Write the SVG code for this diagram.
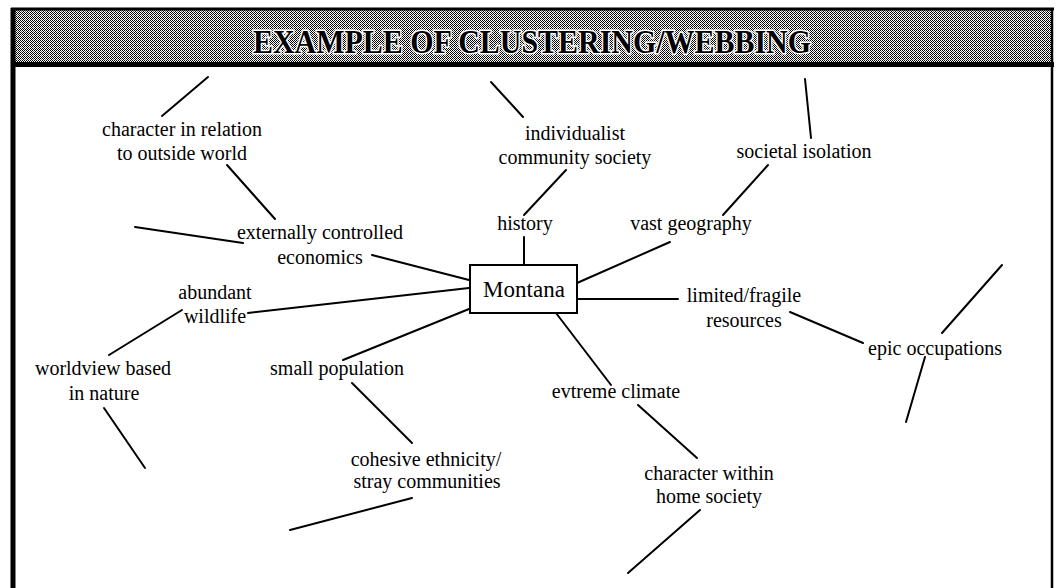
<svg xmlns="http://www.w3.org/2000/svg" width="1056" height="588" viewBox="0 0 1056 588">
<style>
.t{font-family:"Liberation Serif","Times New Roman",serif;font-size:20px;fill:#000;text-anchor:middle}
.c line{stroke:#000;stroke-width:2;stroke-linecap:round}
.frame{stroke:#000;fill:none}
</style>
<defs>
<pattern id="dither" width="4" height="4" patternUnits="userSpaceOnUse">
<rect width="4" height="4" fill="#fff"/>
<rect x="0" y="0" width="1" height="1" fill="#000"/>
<rect x="2" y="0" width="1" height="1" fill="#000"/>
<rect x="1" y="1" width="1" height="1" fill="#000"/>
<rect x="3" y="1" width="1" height="1" fill="#000"/>
<rect x="0" y="2" width="1" height="1" fill="#000"/>
<rect x="2" y="2" width="1" height="1" fill="#000"/>
<rect x="3" y="3" width="1" height="1" fill="#000"/>
<rect x="1" y="3" width="1" height="1" fill="#555"/>
</pattern>
</defs>
<rect width="1056" height="588" fill="#fff"/>
<g id="header">
<rect x="13" y="10" width="1039" height="54" fill="url(#dither)"/>
<text x="532" y="53" font-family="Liberation Serif,'Times New Roman',serif" font-size="34" font-weight="bold" text-anchor="middle" textLength="558" lengthAdjust="spacingAndGlyphs" fill="#000" stroke="#fff" stroke-width="3" paint-order="stroke">EXAMPLE OF CLUSTERING/WEBBING</text>
</g>
<g id="frame">
<line class="frame" x1="13" y1="8" x2="13" y2="588" stroke-width="5"/>
<line class="frame" x1="11" y1="9" x2="1054" y2="9" stroke-width="3"/>
<line class="frame" x1="11" y1="64.5" x2="1054" y2="64.5" stroke-width="5"/>
<line class="frame" x1="1052" y1="8" x2="1052" y2="588" stroke-width="2.5"/>
</g>
<g id="connectors" class="c">
<line x1="208" y1="77" x2="162" y2="116"/>
<line x1="227" y1="165" x2="275" y2="219"/>
<line x1="135" y1="227" x2="243" y2="243"/>
<line x1="372" y1="255" x2="469" y2="280"/>
<line x1="491" y1="82" x2="523" y2="117"/>
<line x1="566" y1="170" x2="524" y2="215"/>
<line x1="524" y1="237" x2="524" y2="264"/>
<line x1="805" y1="79" x2="811" y2="138"/>
<line x1="768" y1="165" x2="723" y2="215"/>
<line x1="670" y1="242" x2="577" y2="283"/>
<line x1="577" y1="299" x2="678" y2="299"/>
<line x1="790" y1="312" x2="863" y2="343"/>
<line x1="1002" y1="265" x2="942" y2="333"/>
<line x1="925" y1="357" x2="906" y2="422"/>
<line x1="469" y1="288" x2="248" y2="313"/>
<line x1="182" y1="310" x2="109" y2="355"/>
<line x1="104" y1="408" x2="145" y2="468"/>
<line x1="469" y1="309" x2="343" y2="360"/>
<line x1="352" y1="383" x2="412" y2="443"/>
<line x1="412" y1="498" x2="290" y2="530"/>
<line x1="556" y1="313" x2="611" y2="385"/>
<line x1="638" y1="405" x2="697" y2="458"/>
<line x1="700" y1="510" x2="628" y2="573"/>
</g>
<g id="montana">
<rect x="470" y="265" width="107" height="48" fill="#fff" stroke="#000" stroke-width="2"/>
<text class="t" x="524" y="297" style="font-size:23px">Montana</text>
</g>
<g id="character-outside"><text class="t" x="182" y="136">character in relation</text><text class="t" x="182" y="160">to outside world</text></g>
<g id="individualist"><text class="t" x="575" y="140">individualist</text><text class="t" x="575" y="164">community society</text></g>
<g id="societal-isolation"><text class="t" x="804" y="158">societal isolation</text></g>
<g id="economics"><text class="t" x="320" y="239">externally controlled</text><text class="t" x="320" y="264">economics</text></g>
<g id="history"><text class="t" x="525" y="230">history</text></g>
<g id="vast-geography"><text class="t" x="691" y="230">vast geography</text></g>
<g id="wildlife"><text class="t" x="215" y="299">abundant</text><text class="t" x="215" y="323">wildlife</text></g>
<g id="resources"><text class="t" x="744" y="302">limited/fragile</text><text class="t" x="744" y="327">resources</text></g>
<g id="epic-occupations"><text class="t" x="935" y="355">epic occupations</text></g>
<g id="worldview"><text class="t" x="103" y="375">worldview based</text><text class="t" x="104" y="400">in nature</text></g>
<g id="small-population"><text class="t" x="337" y="375">small population</text></g>
<g id="extreme-climate"><text class="t" x="616" y="398">evtreme climate</text></g>
<g id="cohesive"><text class="t" x="426" y="466">cohesive ethnicity/</text><text class="t" x="427" y="488">stray communities</text></g>
<g id="character-home"><text class="t" x="709" y="480">character within</text><text class="t" x="709" y="503">home society</text></g>
</svg>
